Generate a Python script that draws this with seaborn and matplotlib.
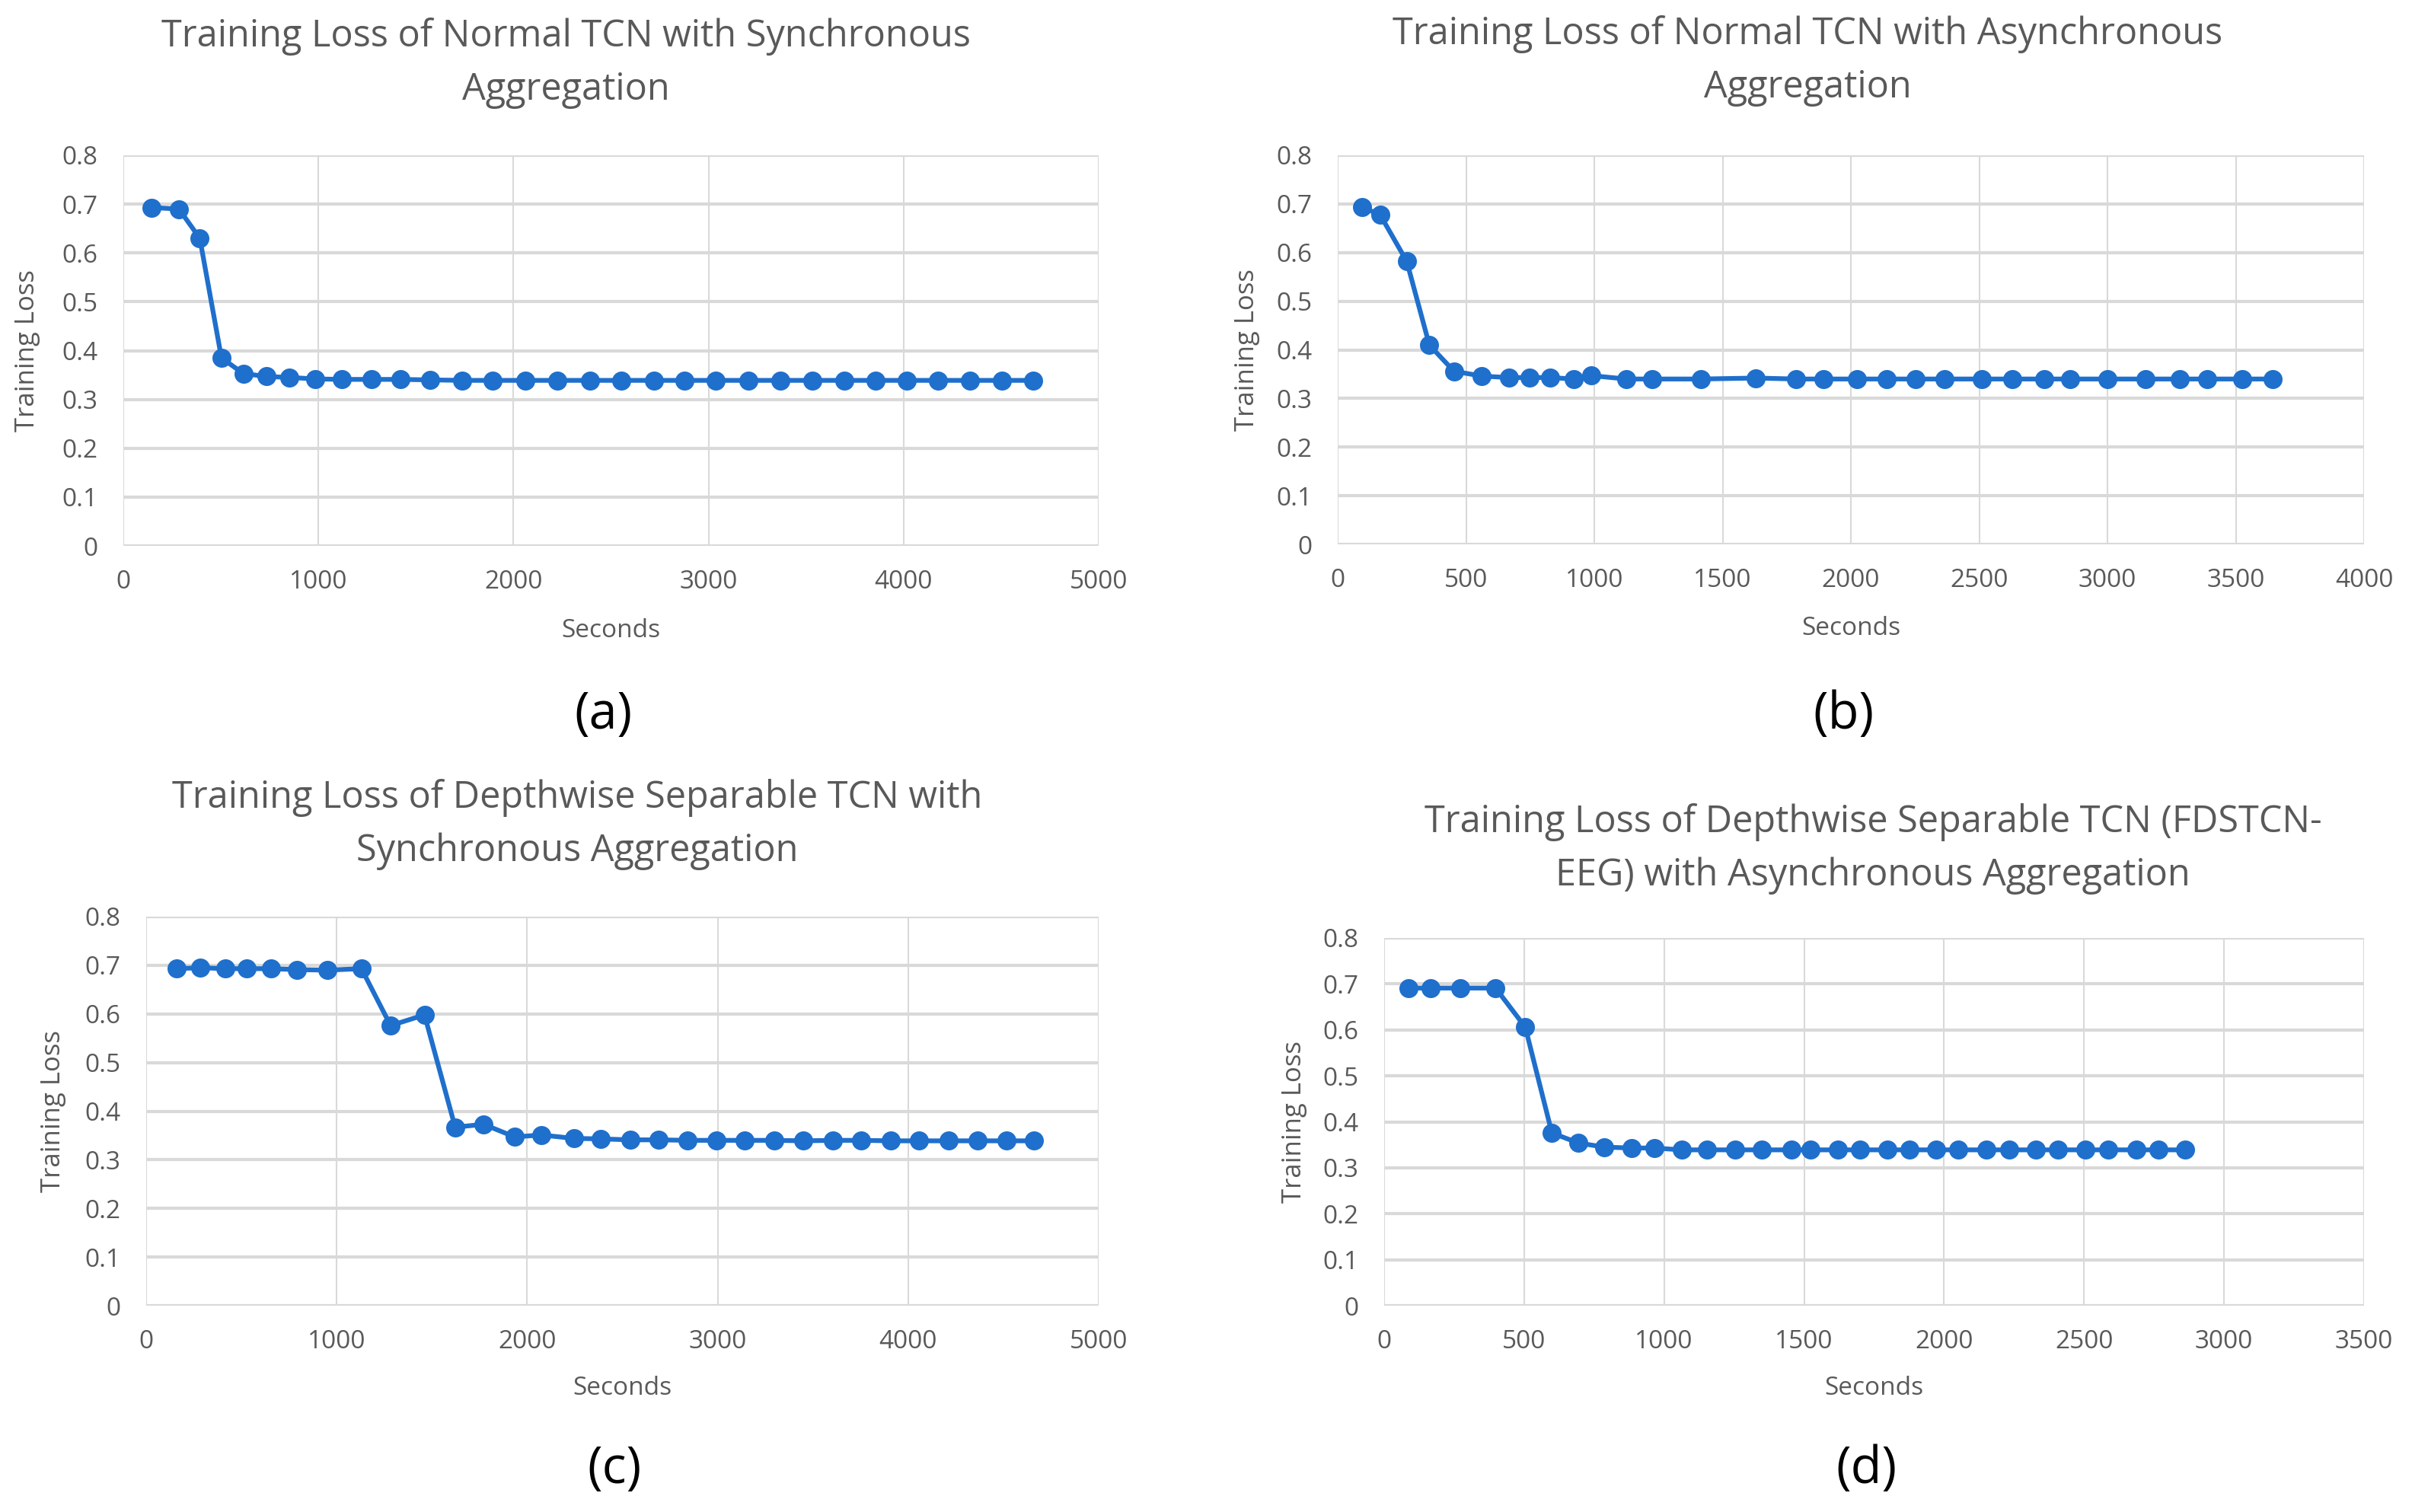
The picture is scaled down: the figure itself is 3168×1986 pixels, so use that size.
import matplotlib
matplotlib.use("Agg")
import matplotlib.pyplot as plt
import seaborn as sns
import pandas as pd

# ---- data ----
a_x = [146, 285, 392, 503, 615, 733, 851, 983, 1122, 1274, 1420, 1573, 1736, 1892, 2059, 2226,
       2392, 2552, 2719, 2875, 3038, 3205, 3368, 3531, 3698, 3858, 4017, 4177, 4340, 4503, 4663]
a_y = [0.693, 0.690, 0.630, 0.385, 0.353, 0.347, 0.345, 0.342, 0.341, 0.341, 0.341, 0.340, 0.339,
       0.339, 0.339, 0.339, 0.339, 0.339, 0.339, 0.339, 0.339, 0.339, 0.339, 0.339, 0.339, 0.339,
       0.339, 0.339, 0.339, 0.339, 0.339]

b_x = [96, 165, 269, 357, 453, 562, 667, 749, 829, 919, 988, 1125, 1226, 1416, 1630, 1786,
       1893, 2025, 2140, 2252, 2365, 2510, 2628, 2754, 2856, 2999, 3149, 3281, 3388, 3525, 3643]
b_y = [0.693, 0.678, 0.582, 0.410, 0.356, 0.346, 0.343, 0.343, 0.343, 0.340, 0.347, 0.340, 0.340,
       0.340, 0.342, 0.340, 0.340, 0.340, 0.340, 0.340, 0.340, 0.340, 0.340, 0.340, 0.340, 0.340,
       0.340, 0.340, 0.340, 0.340, 0.340]

c_x = [160, 285, 417, 527, 656, 791, 952, 1130, 1283, 1461, 1622, 1771, 1935, 2074, 2245, 2388,
       2541, 2691, 2840, 2994, 3143, 3297, 3450, 3607, 3753, 3909, 4056, 4212, 4366, 4515, 4661]
c_y = [0.693, 0.695, 0.693, 0.693, 0.693, 0.691, 0.690, 0.693, 0.576, 0.598, 0.367, 0.373, 0.347,
       0.351, 0.344, 0.343, 0.341, 0.341, 0.340, 0.340, 0.340, 0.340, 0.339, 0.340, 0.340, 0.339,
       0.339, 0.339, 0.339, 0.339, 0.339]

d_x = [88, 166, 272, 398, 504, 599, 693, 786, 884, 965, 1063, 1154, 1254, 1350, 1456, 1524,
       1622, 1700, 1798, 1877, 1972, 2050, 2151, 2232, 2327, 2406, 2506, 2587, 2688, 2766, 2861]
d_y = [0.691, 0.691, 0.691, 0.691, 0.606, 0.376, 0.354, 0.345, 0.343, 0.343, 0.339, 0.339, 0.339,
       0.339, 0.339, 0.339, 0.339, 0.339, 0.339, 0.339, 0.339, 0.339, 0.339, 0.339, 0.339, 0.339,
       0.339, 0.339, 0.339, 0.339, 0.339]

titles = ["Training Loss of Normal TCN with Synchronous\nAggregation",
          "Training Loss of Normal TCN with Asynchronous\nAggregation",
          "Training Loss of Depthwise Separable TCN with\nSynchronous Aggregation",
          "Training Loss of Depthwise Separable TCN (FDSTCN-\nEEG) with Asynchronous Aggregation"]
tags = ["(a)", "(b)", "(c)", "(d)"]
xmaxes = [5000, 4000, 5000, 3500]
xsteps = [1000, 500, 1000, 500]

W, H = 3168, 1986
BLUE = "#1f6fcc"
GRAY = "#595959"
GRID = "#d9d9d9"

sns.set_theme(style="white")
plt.rcParams["font.family"] = ["Open Sans", "DejaVu Sans"]

fig = plt.figure(figsize=(W / 100, H / 100), dpi=100)
fig.patch.set_facecolor("white")

# axes boxes in pixels: left, right, top, bottom
boxes = [(162, 1443, 204, 717), (1757, 3105, 204, 715),
         (192, 1443, 1204, 1715), (1818, 3105, 1232, 1715)]
# title centre x, title centre y, xlabel y, tag y, ylabel x
texts = [(743, 83, 828, 939, 36), (2374, 80, 826, 939, 1638),
         (758, 1083, 1824, 1930, 70), (2460, 1115, 1824, 1930, 1700)]

datasets = [(a_x, a_y), (b_x, b_y), (c_x, c_y), (d_x, d_y)]

for i, (xs, ys) in enumerate(datasets):
    l, r, t, b = boxes[i]
    ax = fig.add_axes([l / W, 1 - b / H, (r - l) / W, (b - t) / H])
    df = pd.DataFrame({"Seconds": xs, "Training Loss": ys})
    sns.lineplot(data=df, x="Seconds", y="Training Loss", ax=ax, color=BLUE,
                 marker="o", markersize=18, markeredgewidth=0, linewidth=4.5, zorder=3)
    ax.set_xlim(0, xmaxes[i])
    ax.set_ylim(0, 0.8)
    ax.set_xticks(range(0, xmaxes[i] + 1, xsteps[i]))
    ax.set_yticks([0, 0.1, 0.2, 0.3, 0.4, 0.5, 0.6, 0.7, 0.8])
    ax.set_yticklabels(["0", "0.1", "0.2", "0.3", "0.4", "0.5", "0.6", "0.7", "0.8"])
    ax.grid(True, axis="y", color=GRID, linewidth=3)
    ax.grid(True, axis="x", color=GRID, linewidth=1.5)
    ax.set_axisbelow(True)
    for s in ax.spines.values():
        s.set_visible(False)
    ax.tick_params(axis="both", length=0, labelsize=24, labelcolor=GRAY)
    ax.tick_params(axis="x", pad=22)
    ax.tick_params(axis="y", pad=24)
    ax.set_xlabel("")
    ax.set_ylabel("")

    tx, ty, xly, tgy, ylx = texts[i]
    fig.text(tx / W, 1 - ty / H, titles[i], ha="center", va="center",
             fontsize=35, color=GRAY, linespacing=1.55)
    fig.text(((l + r) / 2) / W, 1 - xly / H, "Seconds", ha="center", va="center",
             fontsize=24, color=GRAY)
    fig.text(ylx / W, 1 - ((t + b) / 2) / H, "Training Loss", ha="center", va="center",
             rotation=90, fontsize=25, color=GRAY)
    fig.text(((l + r) / 2 - 10) / W, 1 - tgy / H, tags[i], ha="center", va="center",
             fontsize=48, color="black")

fig.savefig("out.png", dpi=100, facecolor="white")
